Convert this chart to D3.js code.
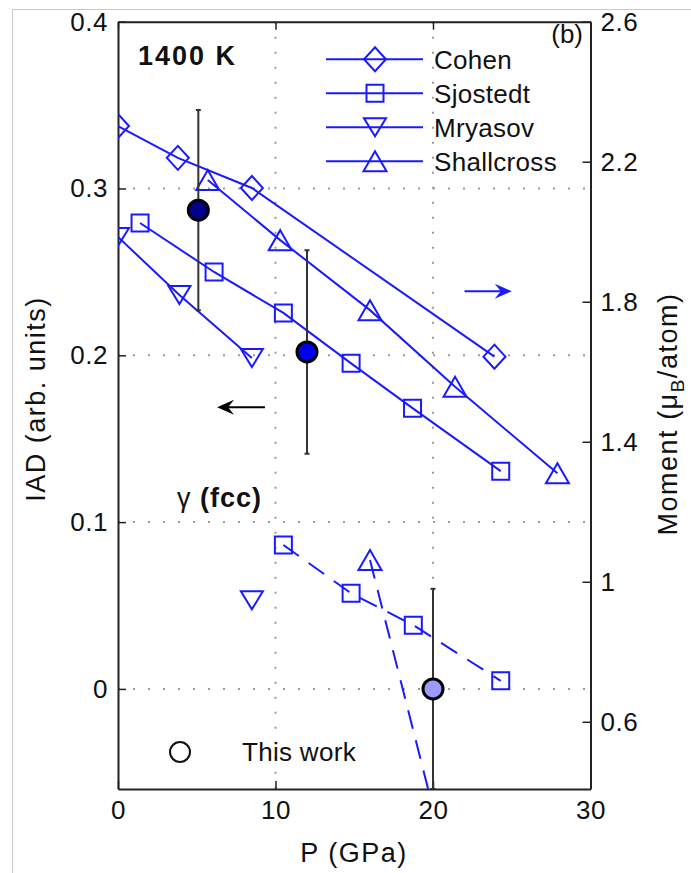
<!DOCTYPE html>
<html>
<head>
<meta charset="utf-8">
<script src="https://cdn.jsdelivr.net/npm/d3@7"></script>
<style>
  body { margin: 0; background: #fff; }
  svg text { font-family: "Liberation Sans", Arial, sans-serif; fill: #111; }
</style>
</head>
<body>
<div id="chart"></div>
<script>
// bcc series (solid), moment on right axis
const cohenP = [0, 3.8, 8.5, 23.9];
const cohenM = [2.302, 2.211, 2.125, 1.643];
const sjostedtP = [1.4, 6.1, 10.5, 14.8, 18.7, 24.3];
const sjostedtM = [2.025, 1.885, 1.768, 1.624, 1.496, 1.316];
const mryasovP = [0, 3.9, 8.5];
const mryasovM = [1.985, 1.819, 1.639];
const shallcrossP = [5.7, 10.3, 16.0, 21.4, 27.9];
const shallcrossM = [2.148, 1.976, 1.776, 1.557, 1.310];
// gamma (fcc) series (dashed)
const sjostedtFccP = [10.5, 14.8, 18.75, 24.3];
const sjostedtFccM = [1.105, 0.967, 0.876, 0.717];
const mryasovFccP = [8.5];
const mryasovFccM = [0.947];
const shallcrossFccP = [16.0, 20.3];
const shallcrossFccM = [1.062, 0.30];
// this work, IAD on left axis
const thisWorkP = [5.1, 12.0, 20.0];
const thisWorkIAD = [0.287, 0.202, 0.0];
const thisWorkErr = [0.06, 0.061, 0.06];
const thisWorkFill = ["#00008b", "#0000f0", "#9b9bff"];
// ticks
const xTicks = [0, 10, 20, 30];
const xTickLabels = ["0", "10", "20", "30"];
const leftTicks = [0, 0.1, 0.2, 0.3, 0.4];
const leftTickLabels = ["0", "0.1", "0.2", "0.3", "0.4"];
const rightTicks = [0.6, 1.0, 1.4, 1.8, 2.2, 2.6];
const rightTickLabels = ["0.6", "1", "1.4", "1.8", "2.2", "2.6"];
const legendNames = ["Cohen", "Sjostedt", "Mryasov", "Shallcross"];

const W = 691, H = 873;
var margin = { top: 21.7, right: 100.5, bottom: 84, left: 118 },
  width = W - margin.left - margin.right,
  height = H - margin.top - margin.bottom;

const blue = "#1a1aff";

const svg = d3.select("#chart").append("svg")
  .attr("width", W).attr("height", H);

// screenshot frame (top + left)
svg.append("line").attr("x1", 12.5).attr("x2", W).attr("y1", 9.5).attr("y2", 9.5)
  .attr("stroke", "#c8c8c8").attr("stroke-width", 1);
svg.append("line").attr("x1", 12.5).attr("x2", 12.5).attr("y1", 9.5).attr("y2", H)
  .attr("stroke", "#c8c8c8").attr("stroke-width", 1);

const g = svg.append("g").attr("transform", `translate(${margin.left},${margin.top})`);

const x = d3.scaleLinear().domain([0, 30]).range([0, width]);
const yL = d3.scaleLinear().domain([-0.06, 0.4]).range([height, 0]);
const yR = d3.scaleLinear().domain([0.408, 2.6]).range([height, 0]);

g.append("clipPath").attr("id", "clip")
  .append("rect").attr("width", width).attr("height", height);

// grid (dotted)
const grid = g.append("g").attr("stroke", "#9a9a9a").attr("stroke-width", 2)
  .attr("stroke-dasharray", "2,13");
grid.selectAll("line.v").data([10, 20]).enter().append("line")
  .attr("x1", d => x(d)).attr("x2", d => x(d)).attr("y1", 0).attr("y2", height);
grid.selectAll("line.h").data([0, 0.1, 0.2, 0.3]).enter().append("line")
  .attr("y1", d => yL(d)).attr("y2", d => yL(d)).attr("x1", 0).attr("x2", width);

// axes
function styleAxis(sel) {
  sel.select(".domain").attr("stroke", "#222").attr("stroke-width", 2);
  sel.selectAll(".tick line").attr("stroke", "#222").attr("stroke-width", 1.5);
  sel.selectAll(".tick text").attr("font-size", 26).attr("fill", "#111")
    .attr("letter-spacing", 0.5)
    .attr("font-family", "Liberation Sans");
}
g.append("g").attr("transform", `translate(0,${height})`)
  .call(d3.axisBottom(x).tickValues(xTicks).tickFormat((d, i) => xTickLabels[i])
    .tickSizeInner(-8).tickSizeOuter(0).tickPadding(12))
  .call(styleAxis);
g.append("g")
  .call(d3.axisTop(x).tickValues(xTicks).tickFormat("").tickSizeInner(-8).tickSizeOuter(0))
  .call(styleAxis);
g.append("g")
  .call(d3.axisLeft(yL).tickValues(leftTicks).tickFormat((d, i) => leftTickLabels[i])
    .tickSizeInner(-8).tickSizeOuter(0).tickPadding(10))
  .call(styleAxis);
g.append("g").attr("transform", `translate(${width},0)`)
  .call(d3.axisRight(yR).tickValues(rightTicks).tickFormat((d, i) => rightTickLabels[i])
    .tickSizeInner(-8).tickSizeOuter(0).tickPadding(10))
  .call(styleAxis);

// marker shapes
const shapes = {
  diamond: "M0,-12L11,0L0,12L-11,0Z",
  square: "M-8.5,-8.5H8.5V8.5H-8.5Z",
  down: "M0,9L11,-9L-11,-9Z",
  up: "M0,-10L11.5,10L-11.5,10Z"
};

const plot = g.append("g").attr("clip-path", "url(#clip)");
const line = d3.line().x(d => x(d[0])).y(d => yR(d[1]));

function series(ps, ms, shape, dashed) {
  const pts = ps.map((p, i) => [p, ms[i]]);
  if (pts.length > 1) {
    plot.append("path").datum(pts).attr("d", line)
      .attr("fill", "none").attr("stroke", blue).attr("stroke-width", 2)
      .attr("stroke-dasharray", dashed ? "19,12" : null);
  }
  const marks = shape === "up" && dashed ? pts.slice(0, 1) : pts;
  plot.selectAll(null).data(marks).enter().append("path")
    .attr("d", shapes[shape])
    .attr("transform", d => `translate(${x(d[0])},${yR(d[1])})`)
    .attr("fill", "none").attr("stroke", blue).attr("stroke-width", 2);
}
series(cohenP, cohenM, "diamond", false);
series(sjostedtP, sjostedtM, "square", false);
series(mryasovP, mryasovM, "down", false);
series(shallcrossP, shallcrossM, "up", false);
series(sjostedtFccP, sjostedtFccM, "square", true);
series(mryasovFccP, mryasovFccM, "down", true);
series(shallcrossFccP, shallcrossFccM, "up", true);

// this work with error bars
const tw = thisWorkP.map((p, i) => ({ p, v: thisWorkIAD[i], e: thisWorkErr[i], c: thisWorkFill[i] }));
const eb = plot.selectAll("g.eb").data(tw).enter().append("g").attr("class", "eb");
eb.append("line").attr("x1", d => x(d.p)).attr("x2", d => x(d.p))
  .attr("y1", d => yL(d.v - d.e)).attr("y2", d => yL(d.v + d.e))
  .attr("stroke", "#333").attr("stroke-width", 2);
eb.append("line").attr("x1", d => x(d.p) - 2.5).attr("x2", d => x(d.p) + 2.5)
  .attr("y1", d => yL(d.v + d.e)).attr("y2", d => yL(d.v + d.e))
  .attr("stroke", "#333").attr("stroke-width", 2);
eb.append("line").attr("x1", d => x(d.p) - 2.5).attr("x2", d => x(d.p) + 2.5)
  .attr("y1", d => yL(d.v - d.e)).attr("y2", d => yL(d.v - d.e))
  .attr("stroke", "#333").attr("stroke-width", 2);
eb.append("circle").attr("cx", d => x(d.p)).attr("cy", d => yL(d.v)).attr("r", 10)
  .attr("fill", d => d.c).attr("stroke", "#000").attr("stroke-width", 3);

// arrows
function arrow(x1, x2, yv, color) {
  const dir = x2 > x1 ? 1 : -1;
  const px1 = x(x1), px2 = x(x2), py = yL(yv);
  g.append("line").attr("x1", px1).attr("x2", px2 - dir * 8).attr("y1", py).attr("y2", py)
    .attr("stroke", color).attr("stroke-width", 2);
  g.append("path")
    .attr("d", `M0,0L${-17},-7.5L${-11},0L${-17},7.5Z`)
    .attr("transform", `translate(${px2},${py}) scale(${dir},1)`)
    .attr("fill", color);
}
arrow(22.0, 25.0, 0.2384, blue);
arrow(9.33, 6.29, 0.1688, "#000");

// legend
const lg = g.append("g").attr("transform", `translate(${326 - margin.left},0)`);
const legShapes = ["diamond", "square", "down", "up"];
const legRows = lg.selectAll("g").data(legendNames).enter().append("g")
  .attr("transform", (d, i) => `translate(0,${37.6 + i * 34})`);
legRows.append("line").attr("x1", 0).attr("x2", 97).attr("stroke", blue).attr("stroke-width", 2);
legRows.append("path").attr("d", (d, i) => shapes[legShapes[i]])
  .attr("transform", "translate(49,0)")
  .attr("fill", "none").attr("stroke", blue).attr("stroke-width", 2);
legRows.append("text").attr("x", 108).attr("dy", "0.36em").attr("font-size", 26)
  .attr("letter-spacing", 0.3).text(d => d);

// this work legend
g.append("circle").attr("cx", 180 - margin.left).attr("cy", 752 - margin.top).attr("r", 10)
  .attr("fill", "none").attr("stroke", "#111").attr("stroke-width", 2);
g.append("text").attr("x", 242 - margin.left).attr("y", 752 - margin.top).attr("dy", "0.36em")
  .attr("font-size", 26).attr("letter-spacing", 0.3).text("This work");

// annotations
g.append("text").attr("x", 138 - margin.left).attr("y", 65 - margin.top)
  .attr("font-size", 27).attr("font-weight", "bold").attr("letter-spacing", 2).text("1400 K");
g.append("text").attr("x", 583 - margin.left).attr("y", 43 - margin.top)
  .attr("text-anchor", "end").attr("font-size", 26).text("(b)");
const gam = g.append("text").attr("x", 177 - margin.left).attr("y", 507 - margin.top)
  .attr("font-size", 27).attr("letter-spacing", 1);
gam.append("tspan").text("γ ");
gam.append("tspan").attr("font-weight", "bold").text("(fcc)");

// axis titles
svg.append("text").attr("x", 354).attr("y", 862).attr("text-anchor", "middle")
  .attr("font-size", 27).attr("letter-spacing", 1.5).text("P (GPa)");
svg.append("text").attr("transform", "translate(45,399) rotate(-90)")
  .attr("text-anchor", "middle").attr("font-size", 27).attr("letter-spacing", 1.5)
  .text("IAD (arb. units)");
const rl = svg.append("text").attr("transform", "translate(677,414) rotate(-90)")
  .attr("text-anchor", "middle").attr("font-size", 27).attr("letter-spacing", 1.5);
rl.append("tspan").text("Moment (μ");
rl.append("tspan").attr("font-size", 19).attr("dy", 7).text("B");
rl.append("tspan").attr("dy", -7).text("/atom)");
</script>
</body>
</html>
